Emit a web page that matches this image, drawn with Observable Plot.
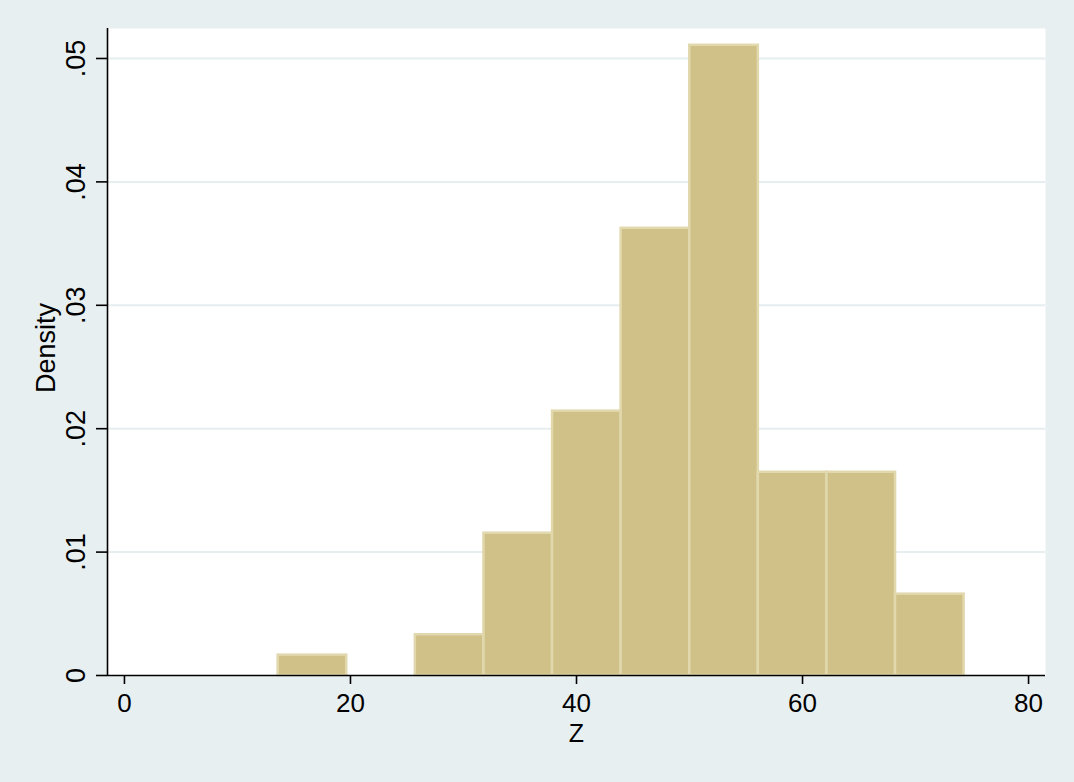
<!DOCTYPE html>
<html>
<head>
<meta charset="utf-8">
<script src="https://cdn.jsdelivr.net/npm/d3@7"></script>
<script src="https://cdn.jsdelivr.net/npm/@observablehq/plot@0.6"></script>
<style>
  html, body { margin: 0; padding: 0; background: #e8eff1; }
  #chart { width: 1074px; height: 782px; }
</style>
</head>
<body>
<div id="chart"></div>
<script>
// Histogram bins (left edges / right edges) and densities
const binStart = [13.6, 19.67, 25.74, 31.81, 37.88, 43.95, 50.02, 56.09, 62.16, 68.23];
const binEnd   = [19.67, 25.74, 31.81, 37.88, 43.95, 50.02, 56.09, 62.16, 68.23, 74.3];
const density  = [0.00165, 0, 0.0033, 0.01153, 0.02142, 0.03624, 0.05107, 0.01647, 0.01647, 0.00659];

const xTicks = [0, 20, 40, 60, 80];
const yTicks = [0, 0.01, 0.02, 0.03, 0.04, 0.05];
const yTickLabels = ["0", ".01", ".02", ".03", ".04", ".05"];
const xTitle = "Z";
const yTitle = "Density";

const bins = binStart.map((s, i) => ({x1: s, x2: binEnd[i], y: density[i]})).filter(d => d.y > 0);
const yLab = yTicks.map((v, i) => ({v, t: yTickLabels[i]}));

const font = "Liberation Sans, Arial, Helvetica, sans-serif";

const chart = Plot.plot({
  width: 1074,
  height: 782,
  marginLeft: 107,
  marginRight: 29,
  marginTop: 28,
  marginBottom: 107,
  style: {background: "#e8eff1", fontFamily: font, color: "#000"},
  x: {domain: [-1.5, 81.5], axis: null},
  y: {domain: [0, 0.05243], axis: null},
  marks: [
    Plot.frame({fill: "white", stroke: null}),
    Plot.ruleY(yTicks.slice(1), {stroke: "#e6eef0", strokeWidth: 2}),
    Plot.rectY(bins, {x1: "x1", x2: "x2", y: "y", fill: "#cfc187", stroke: "#e2d8ae", strokeWidth: 2.5, inset: 0}),
    Plot.axisX({ticks: xTicks, tickSize: 9, tickPadding: 9, fontSize: 26, stroke: "#000", strokeWidth: 1.6, label: null, tickFormat: d => String(d)}),
    Plot.axisY({ticks: yTicks, tickSize: 11, tickFormat: () => "", label: null, stroke: "#000", strokeWidth: 1.6}),
    Plot.text(yLab, {y: "v", text: "t", frameAnchor: "left", dx: -31, rotate: -90, textAnchor: "middle", fontSize: 27, fill: "#000"}),
    Plot.ruleX([-1.5], {stroke: "#000", strokeWidth: 1.6}),
    Plot.ruleY([0], {stroke: "#000", strokeWidth: 1.6}),
    Plot.text([xTitle], {frameAnchor: "bottom", dy: 66, fontSize: 25, fill: "#000"}),
    Plot.text([yTitle], {frameAnchor: "left", dx: -61, dy: -4, rotate: -90, textAnchor: "middle", fontSize: 27, fill: "#000"})
  ]
});
document.getElementById("chart").appendChild(chart);
</script>
</body>
</html>
